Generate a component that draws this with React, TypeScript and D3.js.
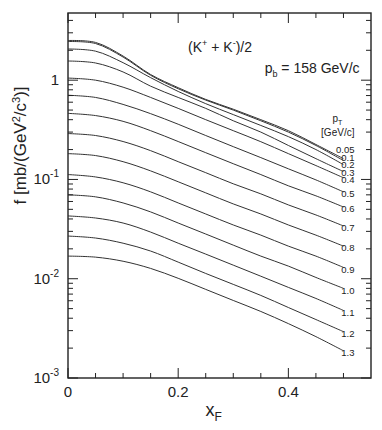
import * as d3 from "d3";
import { useEffect, useRef } from "react";

const xF = [0, 0.05, 0.1, 0.15, 0.2, 0.25, 0.3, 0.35, 0.4, 0.45, 0.5];

// p_T values (GeV/c) labelling each curve
const ptLabels = ["0.05", "0.1", "0.2", "0.3", "0.4", "0.5", "0.6", "0.7", "0.8", "0.9", "1.0", "1.1", "1.2", "1.3"];

// f [mb/(GeV^2/c^3)] per p_T bin
const f005 = [2.51, 2.4, 1.75, 1.14, 0.84, 0.64, 0.51, 0.4, 0.31, 0.225, 0.162];
const f01 = [2.45, 2.34, 1.71, 1.12, 0.82, 0.63, 0.5, 0.39, 0.3, 0.22, 0.155];
const f02 = [2.06, 1.96, 1.5, 1.06, 0.77, 0.58, 0.45, 0.35, 0.27, 0.2, 0.141];
const f03 = [1.56, 1.49, 1.21, 0.87, 0.67, 0.52, 0.39, 0.3, 0.22, 0.162, 0.12];
const f04 = [1.05, 1.0, 0.85, 0.67, 0.52, 0.4, 0.31, 0.24, 0.182, 0.138, 0.104];
const f05 = [0.705, 0.67, 0.57, 0.46, 0.36, 0.277, 0.214, 0.166, 0.128, 0.099, 0.075];
const f06 = [0.463, 0.44, 0.385, 0.31, 0.241, 0.186, 0.144, 0.112, 0.0863, 0.0684, 0.0528];
const f07 = [0.29, 0.277, 0.241, 0.195, 0.151, 0.117, 0.0904, 0.0716, 0.0554, 0.0439, 0.034];
const f08 = [0.182, 0.174, 0.151, 0.122, 0.0948, 0.0733, 0.0567, 0.0449, 0.0348, 0.0275, 0.0213];
const f09 = [0.112, 0.106, 0.0926, 0.075, 0.058, 0.0449, 0.0348, 0.0275, 0.0213, 0.0169, 0.013];
const f10 = [0.07, 0.0668, 0.058, 0.0471, 0.0364, 0.0282, 0.0218, 0.0169, 0.0134, 0.0103, 0.008];
const f11 = [0.0429, 0.0409, 0.0364, 0.0295, 0.0228, 0.0177, 0.0137, 0.0106, 0.00818, 0.00633, 0.00479];
const f12 = [0.0269, 0.0257, 0.0228, 0.019, 0.0147, 0.0113, 0.00877, 0.00679, 0.00513, 0.00388, 0.00293];
const f13 = [0.0169, 0.0165, 0.015, 0.0127, 0.0101, 0.00781, 0.00604, 0.00468, 0.00353, 0.00261, 0.00188];

const series = [f005, f01, f02, f03, f04, f05, f06, f07, f08, f09, f10, f11, f12, f13];

const xMajor = [0, 0.2, 0.4];
const xMinor = [0.05, 0.1, 0.15, 0.25, 0.3, 0.35, 0.45, 0.5];
const yMajor = [1, 0.1, 0.01, 0.001];
const yMajorExp = ["", "-1", "-2", "-3"];

export default function App() {
  const svgRef = useRef<SVGSVGElement | null>(null);

  useEffect(() => {
    if (!svgRef.current) return;
    const width = 382;
    const height = 430;
    const m = { left: 68, right: 11, top: 13, bottom: 52 };
    const font = "'Liberation Sans', Arial, Helvetica, sans-serif";
    const ink = "#222";

    const x = d3.scaleLinear().domain([0, 0.55]).range([m.left, width - m.right]);
    const y = d3.scaleLog().domain([0.001, 4.75]).range([height - m.bottom, m.top]);
    const [x0, x1] = x.range();
    const [yb, yt] = y.range();

    const svg = d3.select(svgRef.current);
    svg.selectAll("*").remove();
    svg.attr("font-family", font);

    // curves
    const line = d3
      .line<number>()
      .x((_, i) => x(xF[i]))
      .y((d) => y(d))
      .curve(d3.curveCatmullRom.alpha(0.5));

    svg
      .append("g")
      .selectAll("path")
      .data(series)
      .enter()
      .append("path")
      .attr("d", (d) => line(d))
      .attr("fill", "none")
      .attr("stroke", "#333")
      .attr("stroke-width", 1);

    // ticks (inward, mirrored)
    const tk = svg.append("g").attr("stroke", ink).attr("stroke-width", 1);
    const xTick = (v: number, len: number) => {
      tk.append("line").attr("x1", x(v)).attr("x2", x(v)).attr("y1", yb).attr("y2", yb - len);
      tk.append("line").attr("x1", x(v)).attr("x2", x(v)).attr("y1", yt).attr("y2", yt + len);
    };
    xMajor.forEach((v) => xTick(v, 10));
    xMinor.forEach((v) => xTick(v, 5));

    const yTick = (v: number, len: number) => {
      tk.append("line").attr("x1", x0).attr("x2", x0 + len).attr("y1", y(v)).attr("y2", y(v));
      tk.append("line").attr("x1", x1).attr("x2", x1 - len).attr("y1", y(v)).attr("y2", y(v));
    };
    yMajor.forEach((v) => yTick(v, 10));
    yMajor.forEach((v) => {
      for (let k = 2; k <= 9; k++) {
        const t = v * k;
        if (t < y.domain()[1]) yTick(t, 5);
      }
    });

    // frame
    svg
      .append("rect")
      .attr("x", x0)
      .attr("y", yt)
      .attr("width", x1 - x0)
      .attr("height", yb - yt)
      .attr("fill", "none")
      .attr("stroke", ink)
      .attr("stroke-width", 1.4);

    // x tick labels
    svg
      .append("g")
      .selectAll("text")
      .data(xMajor)
      .enter()
      .append("text")
      .attr("x", (d) => x(d))
      .attr("y", yb + 19)
      .attr("text-anchor", "middle")
      .attr("font-size", 15)
      .attr("fill", ink)
      .text((d) => (d === 0 ? "0" : d3.format(".1f")(d)));

    // y tick labels
    yMajor.forEach((v, i) => {
      const t = svg
        .append("text")
        .attr("x", x0 - 9)
        .attr("y", y(v) + 5)
        .attr("text-anchor", "end")
        .attr("font-size", 15)
        .attr("fill", ink);
      if (yMajorExp[i] === "") {
        t.text("1");
      } else {
        t.append("tspan").text("10");
        t.append("tspan").attr("font-size", 10).attr("dy", -7).text(yMajorExp[i]);
      }
    });

    // axis titles
    const xt = svg
      .append("text")
      .attr("x", x(0.25) + 8)
      .attr("y", height - 14)
      .attr("text-anchor", "middle")
      .attr("font-size", 18)
      .attr("fill", ink);
    xt.append("tspan").text("x");
    xt.append("tspan").attr("font-size", 12).attr("dy", 5).text("F");

    const yTitle = svg
      .append("text")
      .attr("transform", `translate(26, ${y(0.22)}) rotate(-90)`)
      .attr("text-anchor", "middle")
      .attr("font-size", 17)
      .attr("fill", ink);
    yTitle.append("tspan").text("f [mb/(GeV");
    yTitle.append("tspan").attr("font-size", 11).attr("dy", -6).text("2");
    yTitle.append("tspan").attr("dy", 6).text("/c");
    yTitle.append("tspan").attr("font-size", 11).attr("dy", -6).text("3");
    yTitle.append("tspan").attr("dy", 6).text(")]");

    // annotations
    const title = svg
      .append("text")
      .attr("x", x(0.218))
      .attr("y", 52)
      .attr("font-size", 14)
      .attr("fill", ink);
    title.append("tspan").text("(K");
    title.append("tspan").attr("font-size", 9).attr("dy", -6).text("+");
    title.append("tspan").attr("dy", 6).text(" + K");
    title.append("tspan").attr("font-size", 9).attr("dy", -6).text("-");
    title.append("tspan").attr("dy", 6).text(")/2");

    const beam = svg
      .append("text")
      .attr("x", x(0.357))
      .attr("y", 73)
      .attr("font-size", 14)
      .attr("fill", ink);
    beam.append("tspan").text("p");
    beam.append("tspan").attr("font-size", 9).attr("dy", 4).text("b");
    beam.append("tspan").attr("dy", -4).text(" = 158 GeV/c");

    const lx = x(0.5) + 11;
    const ph = svg
      .append("text")
      .attr("x", lx - 22)
      .attr("y", 122)
      .attr("font-size", 10)
      .attr("fill", ink);
    ph.append("tspan").text("p");
    ph.append("tspan").attr("font-size", 7).attr("dy", 3).text("T");
    svg
      .append("text")
      .attr("x", lx)
      .attr("y", 136)
      .attr("text-anchor", "end")
      .attr("font-size", 10)
      .attr("fill", ink)
      .text("[GeV/c]");

    // curve labels, pushed apart where the ends crowd together
    const ends = series.map((s) => y(s[s.length - 1]) + 2);
    for (let i = ends.length - 2; i >= 0; i--) {
      if (ends[i] > ends[i + 1] - 7.5) ends[i] = ends[i + 1] - 7.5;
    }
    svg
      .append("g")
      .selectAll("text")
      .data(ptLabels)
      .enter()
      .append("text")
      .attr("x", lx)
      .attr("y", (_, i) => ends[i] + 3.3)
      .attr("text-anchor", "end")
      .attr("font-size", 9.5)
      .attr("fill", ink)
      .text((d) => d);
  }, []);

  return (
    <svg
      ref={svgRef}
      width={382}
      height={430}
      viewBox="0 0 382 430"
      style={{ position: "absolute", left: 0, top: 0, background: "#fff" }}
    />
  );
}
